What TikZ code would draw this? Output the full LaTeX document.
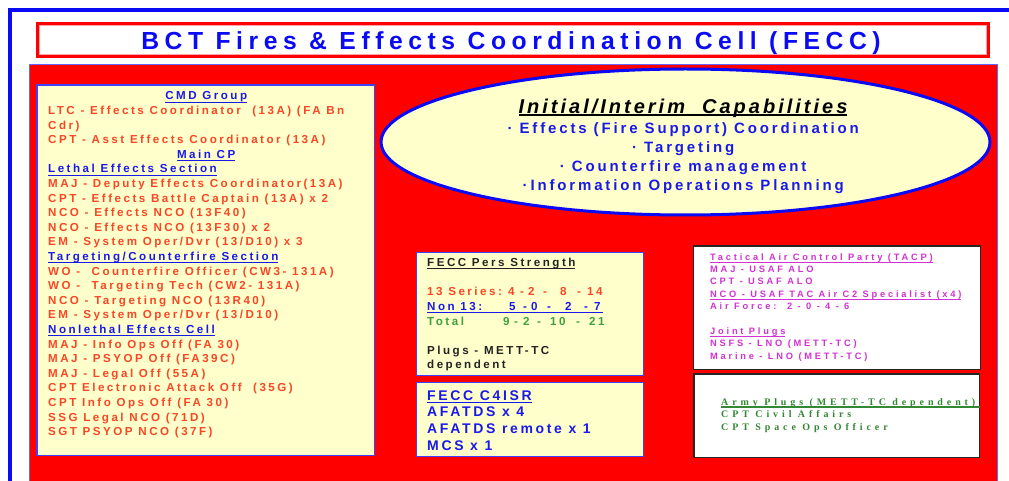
\documentclass[tikz,border=0pt]{standalone}
\usepackage{fontspec}
\setmainfont{Liberation Sans}
\newfontfamily\bodyfont[LetterSpace=21.5]{Liberation Sans}
\newfontfamily\ellfont[LetterSpace=19]{Liberation Sans}
\newfontfamily\capfont[LetterSpace=15]{Liberation Sans}
\newfontfamily\cfont[LetterSpace=19]{Liberation Sans}
\newfontfamily\tacfont[LetterSpace=30]{Liberation Sans}
\newfontfamily\titfont[LetterSpace=22.5]{Liberation Sans}
\newfontfamily\serfont[LetterSpace=39]{Liberation Serif}
\definecolor{yel}{RGB}{255,255,204}
\definecolor{ored}{RGB}{250,70,38}
\definecolor{tblue}{RGB}{25,25,235}
\definecolor{tgreen}{RGB}{60,160,60}
\definecolor{mag}{RGB}{210,50,210}
\definecolor{dk}{RGB}{35,35,35}
\definecolor{frameblue}{RGB}{10,10,245}
\newcommand\ulx[2][1pt]{\setbox0=\hbox{#2}\rlap{\rule[-2.6pt]{\wd0}{#1}}\box0}
\newcommand\atx[2]{\rlap{\hspace*{#1pt}#2}}
\newcommand\vlines[1]{\vtop{\lineskiplimit=-100pt\relax\lineskip=0pt\relax #1}}
\tikzset{
  txt/.style={inner sep=0pt, anchor=base west},
  yelbox/.style={fill=yel, draw=blue!75, line width=1pt},
  whitebox/.style={fill=white, draw=black!85, line width=1.5pt}
}
\begin{document}
\begin{tikzpicture}[x=1pt,y=-1pt]
\useasboundingbox (0,0) rectangle (1009,481);
\clip (0,0) rectangle (1009,481);
\fill[white] (0,0) rectangle (1009,481);
% outer frame
\draw[frameblue, line width=4pt] (9.5,500) -- (9.5,10.5) -- (1030,10.5);
% title box
\draw[red, line width=3pt] (37,23.5) rectangle (988.5,56.5);
\draw[red!35, line width=0.6pt] (39,25.5) rectangle (986.5,54.5);
\node[inner sep=0pt, anchor=base, text=frameblue, font=\titfont\bfseries\fontsize{24.7}{28}\selectfont] (title) at (511,50) {BCT Fires \& Effects Coordination Cell (FECC)};
% red panel
\filldraw[fill=red, draw=blue!60, line width=1pt] (29,65) rectangle (997,500);
% left box
\filldraw[yelbox, line width=1.2pt] (37,85) rectangle (374.5,455.5);
\node[txt, text=ored, font=\bodyfont\bfseries\fontsize{11.6}{14.6}\selectfont] (cmd) at (48,100) {\vlines{%
\hbox to 316pt{\hfil\color{tblue}\ulx{CMD Group}\hfil}
\hbox{LTC - Effects Coordinator\ \ (13A) (FA Bn}
\hbox{Cdr)}
\hbox{CPT - Asst Effects Coordinator (13A)}
\hbox to 316pt{\hfil\color{tblue}\ulx{Main CP}\hfil}
\hbox{\color{tblue}\ulx{Lethal Effects Section}}
\hbox{MAJ - Deputy Effects Coordinator(13A)}
\hbox{CPT - Effects Battle Captain (13A) x 2}
\hbox{NCO - Effects NCO (13F40)}
\hbox{NCO - Effects NCO (13F30) x 2}
\hbox{EM - System Oper/Dvr (13/D10) x 3}
\hbox{\color{tblue}\ulx{Targeting/Counterfire Section}}
\hbox{WO -\ \ Counterfire Officer (CW3- 131A)}
\hbox{WO -\ \ Targeting Tech (CW2- 131A)}
\hbox{NCO - Targeting NCO (13R40)}
\hbox{EM - System Oper/Dvr (13/D10)}
\hbox{\color{tblue}\ulx{Nonlethal Effects Cell}}
\hbox{MAJ - Info Ops Off (FA 30)}
\hbox{MAJ - PSYOP Off (FA39C)}
\hbox{MAJ - Legal Off (55A)}
\hbox{CPT Electronic Attack Off\ \ (35G)}
\hbox{CPT Info Ops Off (FA 30)}
\hbox{SSG Legal NCO (71D)}
\hbox{SGT PSYOP NCO (37F)}
}};
% ellipse
\filldraw[fill=yel, draw=frameblue, line width=3pt] (685.5,142) ellipse [x radius=304.5pt, y radius=73pt];
\node[inner sep=0pt, anchor=base, text=black, font=\capfont\bfseries\itshape\fontsize{20}{24}\selectfont] (cap) at (683,113.3) {\ulx[2.2pt]{Initial/Interim\ \ Capabilities}};
\node[txt, text=tblue, font=\ellfont\bfseries\fontsize{15}{19}\selectfont] (caps) at (483,133.3) {\vlines{%
\hbox to 400pt{\hfil\textperiodcentered\ Effects (Fire Support) Coordination\hfil}
\hbox to 400pt{\hfil\textperiodcentered\ Targeting\hfil}
\hbox to 400pt{\hfil\textperiodcentered\ Counterfire management\hfil}
\hbox to 400pt{\hfil\textperiodcentered Information Operations Planning\hfil}
}};
% pers strength
\filldraw[yelbox] (416,252) rectangle (643,375);
\node[txt, text=dk, font=\bodyfont\bfseries\fontsize{11.6}{14.6}\selectfont] (pers) at (427,266.7) {\vlines{%
\hbox{\ulx{FECC Pers Strength}}
\hbox{}
\hbox{\color{ored}\atx{0}{13 Series:}\atx{81}{4}\atx{93}{-}\atx{101}{2}\atx{116}{-}\atx{133}{8}\atx{150}{-}\atx{160}{14}}
\hbox{\color{tblue}\ulx{\hbox to 176pt{\atx{0}{Non 13:}\atx{82}{5}\atx{96}{-}\atx{104}{0}\atx{120}{-}\atx{138}{2}\atx{157}{-}\atx{167}{7}\hfil}}}
\hbox{\color{tgreen}\atx{0}{Total}\atx{76}{9}\atx{87}{-}\atx{96}{2}\atx{110}{-}\atx{123}{10}\atx{149}{-}\atx{162}{21}}
\hbox{}
\hbox{Plugs - METT-TC}
\hbox{dependent}
}};
% C4ISR
\filldraw[yelbox] (416,382.5) rectangle (643,456.5);
\node[txt, text=tblue, font=\cfont\bfseries\fontsize{14}{16.7}\selectfont] (c4) at (427,400) {\vlines{%
\hbox{\ulx{FECC C4ISR}}
\hbox{AFATDS x 4}
\hbox{AFATDS remote x 1}
\hbox{MCS x 1}
}};
% TACP
\filldraw[whitebox] (693.5,246) rectangle (980.5,369.5);
\node[txt, text=mag, font=\tacfont\bfseries\fontsize{9.3}{12.4}\selectfont] (tacp) at (710,260) {\vlines{%
\hbox{\ulx{Tactical Air Control Party (TACP)}}
\hbox{MAJ - USAF ALO}
\hbox{CPT - USAF ALO}
\hbox{\ulx{NCO - USAF TAC Air C2 Specialist (x4)}}
\hbox{Air Force:\ \ 2 - 0 - 4 - 6}
\hbox{}
\hbox{\ulx{Joint Plugs}}
\hbox{NSFS - LNO (METT-TC)}
\hbox{Marine - LNO (METT-TC)}
}};
% Army plugs
\filldraw[whitebox] (694,374) rectangle (979.5,457.5);
\node[txt, text=tgreen!85!black, font=\serfont\bfseries\fontsize{10}{12.5}\selectfont] (army) at (721,405) {\vlines{%
\hbox{\rlap{\rule[-2.6pt]{258.5pt}{1.2pt}}Army Plugs (METT-TC dependent)}
\hbox{CPT Civil Affairs}
\hbox{CPT Space Ops Officer}
}};
\end{tikzpicture}
\end{document}
